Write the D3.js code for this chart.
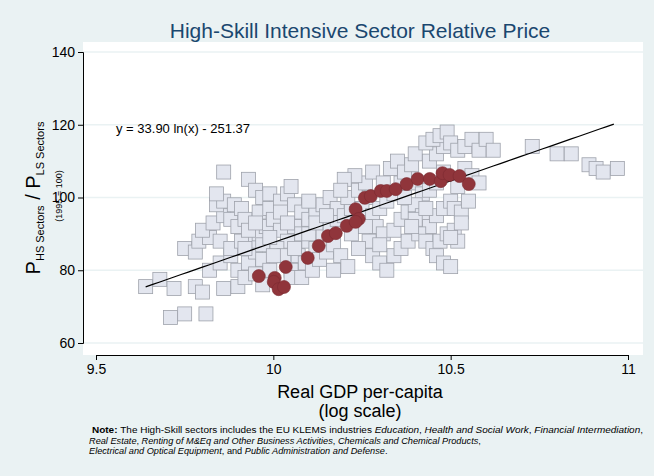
<!DOCTYPE html>
<html><head><meta charset="utf-8">
<script src="https://cdn.jsdelivr.net/npm/d3@7"></script>
<style>body{margin:0;background:#eaf2f3;font-family:"Liberation Sans",Arial,sans-serif}</style>
</head><body><svg id="c" width="654" height="476"></svg>
<script>
const xTicks = [9.5, 10, 10.5, 11];
const yTicks = [60, 80, 100, 120, 140];
// gray squares: [log gdp, relative price]
const countries = [
[9.64,75.5],[9.68,77.5],[9.71,67],[9.75,68],[9.81,68],[9.72,75],[9.78,75.5],[9.80,74],[9.86,75],[9.90,75.5],
[9.75,86],[9.78,85],[9.79,88],[9.82,89],[9.85,88],[9.80,91],[9.83,93],[9.86,95],[9.88,94],[9.90,92],
[9.84,98],[9.86,99],[9.89,98],[9.91,97],[9.84,101],[9.86,107],[9.93,105],[9.95,102],[9.97,100],[9.99,101],
[9.82,80],[9.85,82],[9.88,84],[9.90,80],[9.92,78],[9.93,82],[9.95,85],[9.97,83],[9.99,80],[9.94,88],
[9.96,90],[9.98,92],[9.92,94],[9.96,96],[9.99,97],[10.00,94],[10.02,91],[10.04,88],[10.01,86],[10.03,84],
[9.88,86],[9.91,88],[9.93,91],[9.95,93],[9.97,87],[9.99,89],[10.02,99],[10.04,101],[10.05,103],[10.02,96],
[10.06,98],[10.08,96],[10.10,94],[10.06,92],[10.08,90],[10.10,88],[10.12,86],[10.07,84],[10.09,82],[10.05,80],
[10.05,78],[10.08,78],[10.11,80],[10.13,83],[10.15,85],[10.17,87],[10.19,84],[10.21,81],[10.17,80],[10.14,90],
[10.16,92],[10.18,94],[10.12,96],[10.14,98],[10.16,100],[10.18,97],[10.20,95],[10.22,97],[10.21,100],[10.24,102],
[10.26,104],[10.23,106],[10.20,105],[10.27,100],[10.25,97],[10.28,95],[10.30,97],[10.29,92],[10.31,90],[10.27,88],
[10.24,86],[10.28,84],[10.30,82],[10.32,80],[10.34,84],[10.36,86],[10.38,88],[10.34,91],[10.36,94],[10.38,96],
[10.32,99],[10.34,101],[10.36,104],[10.38,106],[10.33,108],[10.35,110],[10.37,107],[10.39,109],[10.40,112],[10.41,104],
[10.42,101],[10.40,98],[10.42,95],[10.44,92],[10.41,90],[10.43,88],[10.45,86],[10.46,84],[10.48,82],[10.50,81],
[10.47,88],[10.49,90],[10.51,91],[10.46,95],[10.48,97],[10.50,99],[10.44,102],[10.46,104],[10.48,107],[10.44,110],
[10.46,112],[10.48,114],[10.43,115],[10.45,116],[10.47,117],[10.49,118],[10.50,115],[10.52,113],[10.54,114],[10.56,116],
[10.58,113],[10.60,116],[10.62,113],[10.54,108],[10.56,106],[10.58,104],[10.52,103],[10.51,97],[10.53,96],[10.55,99],
[10.52,88],[10.50,89],[10.53,93],[10.73,114],[10.80,112],[10.84,112],[10.89,109],[10.91,108],[10.93,107],[10.97,108],
[9.95,79],[9.97,76],[9.92,86],[10.00,84],[10.10,90],[10.12,93],[10.22,90],[10.26,92],[10.30,87],[10.40,94],
[10.04,93],[10.06,86],[10.15,95],[10.19,102],[10.28,107],[10.31,104],[10.37,100],[10.43,97],[10.39,92],[10.10,99]
];
// red circles: one country over time
const uk = [
[9.959,78.4],[10.004,77.9],[10.001,76.8],[10.015,74.8],[10.030,75.4],[10.035,80.9],[10.097,83.4],[10.128,86.7],
[10.154,89.4],[10.176,90.2],[10.207,92.2],[10.232,96.8],[10.241,94.1],[10.232,93.3],[10.258,99.9],[10.275,100.4],
[10.303,101.8],[10.320,101.8],[10.345,102.3],[10.376,103.7],[10.407,105.1],[10.441,105.1],[10.472,104.5],
[10.477,106.7],[10.497,106.2],[10.525,105.9],[10.551,103.7]
];
const fit = { a: 33.90, b: -251.37, from: 9.64, to: 10.96 };

const svg = d3.select("#c");
const L = 83, R = 643, T = 42, B = 355;
const x = d3.scaleLinear().domain([9.5, 11]).range([96, 628]);
const y = d3.scaleLinear().domain([60, 140]).range([343, 52]);

svg.append("rect").attr("x", L).attr("y", T).attr("width", R - L).attr("height", B - T).attr("fill", "#fff");
svg.selectAll(".g").data(yTicks).join("line")
  .attr("x1", L).attr("x2", R).attr("y1", d => y(d)).attr("y2", d => y(d))
  .attr("stroke", "#eaf2f3").attr("stroke-width", 1.5);

svg.append("g").attr("transform", `translate(0,${B})`)
  .call(d3.axisBottom(x).tickValues(xTicks).tickFormat(d3.format("")).tickSize(5))
  .call(g => g.select(".domain").attr("stroke", "#000"))
  .call(g => g.selectAll("text").attr("font-size", 14).attr("font-family", "Liberation Sans Narrow, Liberation Sans, Arial").attr("dy", "0.8em"));
svg.append("g").attr("transform", `translate(${L},0)`)
  .call(d3.axisLeft(y).tickValues(yTicks).tickSize(5))
  .call(g => g.select(".domain").attr("stroke", "#000"))
  .call(g => g.selectAll("text").attr("font-size", 14).attr("font-family", "Liberation Sans Narrow, Liberation Sans, Arial"));

svg.selectAll(".sq").data(countries).join("rect")
  .attr("x", d => x(d[0]) - 7).attr("y", d => y(d[1]) - 7).attr("width", 14).attr("height", 14)
  .attr("fill", "#e3e6ef").attr("stroke", "#9ea2ab").attr("stroke-width", 0.8);

const xs = d3.range(fit.from, fit.to + 0.001, 0.02);
svg.append("path").datum(xs)
  .attr("d", d3.line().x(d => x(d)).y(d => y(fit.a * d + fit.b)))
  .attr("fill", "none").attr("stroke", "#000").attr("stroke-width", 1.2);

svg.selectAll(".ci").data(uk).join("circle")
  .attr("cx", d => x(d[0])).attr("cy", d => y(d[1])).attr("r", 6.5)
  .attr("fill", "#90353b").attr("stroke", "#7a2a30").attr("stroke-width", 0.6);

svg.append("text").attr("x", 116).attr("y", 133).attr("font-size", 13).text("y = 33.90 ln(x) - 251.37");
svg.append("text").attr("x", 360).attr("y", 38).attr("text-anchor", "middle").attr("font-size", 21).attr("fill", "#1a476f").text("High-Skill Intensive Sector Relative Price");

const yl = svg.append("text").attr("transform", "translate(40,198) rotate(-90)").attr("text-anchor", "middle").attr("font-size", 20);
yl.append("tspan").text("P");
yl.append("tspan").attr("font-size", 11).attr("dy", 4).text("HS Sectors");
yl.append("tspan").attr("dy", -4).text(" / P");
yl.append("tspan").attr("font-size", 11).attr("dy", 4).text("LS Sectors");
svg.append("text").attr("transform", "translate(62,196) rotate(-90)").attr("text-anchor", "middle").attr("font-size", 9).text("(1995 = 100)");

svg.append("text").attr("x", 360).attr("y", 398).attr("text-anchor", "middle").attr("font-size", 18).text("Real GDP per-capita");
svg.append("text").attr("x", 360).attr("y", 417).attr("text-anchor", "middle").attr("font-size", 18).text("(log scale)");

const note = [
  [["Note: ", "b"], ["The High-Skill sectors includes the EU KLEMS industries ", ""], ["Education", "i"], [", ", ""], ["Health and Social Work", "i"], [", ", ""], ["Financial Intermediation", "i"], [",", ""]],
  [["Real Estate", "i"], [", ", ""], ["Renting of M&Eq and Other Business Activities", "i"], [", ", ""], ["Chemicals and Chemical Products", "i"], [",", ""]],
  [["Electrical and Optical Equipment", "i"], [", and ", ""], ["Public Administration and Defense", "i"], [".", ""]]
];
note.forEach((line, i) => {
  const t = svg.append("text").attr("x", i === 0 ? 92 : 89).attr("y", 433 + i * 10.5).attr("font-size", 9.2)
    .attr("textLength", i === 0 ? 551 : null).attr("lengthAdjust", "spacingAndGlyphs");
  line.forEach(([s, f]) => t.append("tspan").text(s)
    .attr("font-weight", f === "b" ? "bold" : null).attr("font-style", f === "i" ? "italic" : null));
});
</script></body></html>
